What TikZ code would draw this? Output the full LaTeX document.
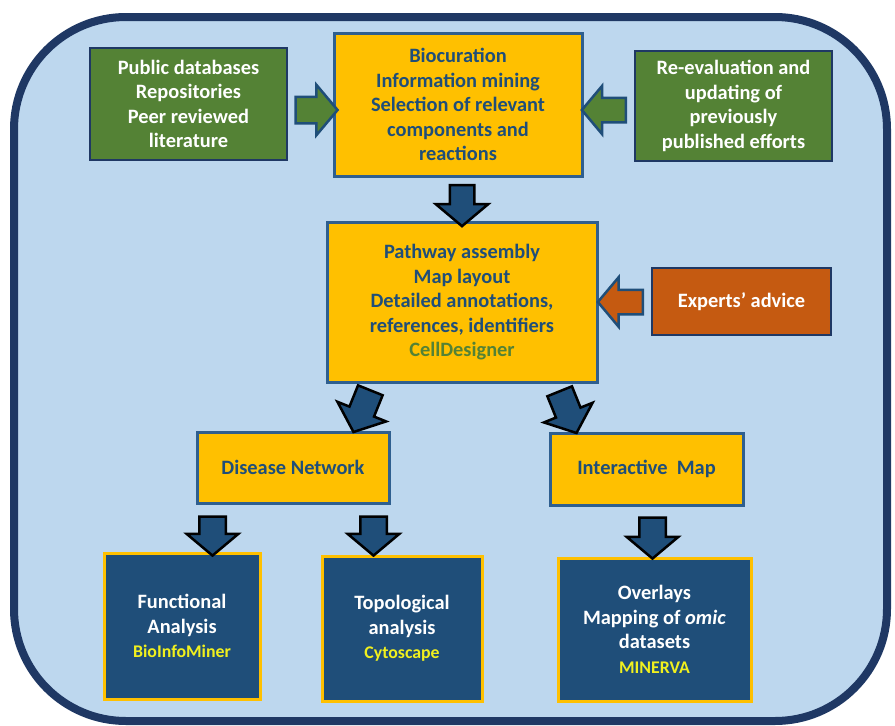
\documentclass[tikz,border=0pt]{standalone}
\usepackage{fontspec}
\setmainfont{Carlito}
\usetikzlibrary{shapes.arrows,calc}
\definecolor{framec}{HTML}{1F3864}
\definecolor{bgc}{HTML}{BDD7EE}
\definecolor{greenc}{HTML}{548235}
\definecolor{yellowc}{HTML}{FFC000}
\definecolor{orangec}{HTML}{C55A11}
\definecolor{navyc}{HTML}{1F4E79}
\definecolor{ybord}{HTML}{2F5F8F}
\definecolor{toolc}{HTML}{F0F01E}
\tikzset{
  basefont/.style={font=\fontsize{20.4}{24.5}\selectfont\bfseries},
  gbox/.style={basefont, draw=framec, line width=2.5pt, fill=greenc, text=white, align=center, inner sep=0pt},
  ybox/.style={basefont, draw=ybord, line width=3pt, fill=yellowc, text=navyc, align=center, inner sep=0pt},
  obox/.style={basefont, draw=framec, line width=2.5pt, fill=orangec, text=white, align=center, inner sep=0pt},
  nbox/.style={basefont, draw=yellowc, line width=3pt, fill=navyc, text=white, align=center, inner sep=0pt},
  barrow/.style={single arrow, inner xsep=0pt, line width=2.5pt, single arrow tip angle=100},
  garrow/.style={barrow, draw=navyc, fill=greenc},
  oarrow/.style={barrow, draw=navyc, fill=orangec},
  narrow/.style={barrow, draw=black, fill=navyc},
}
\begin{document}
\begin{tikzpicture}[x=1pt,y=-1pt]
\useasboundingbox (0,0) rectangle (895,726);
% outer frame
\draw[framec, line width=8pt, fill=bgc, rounded corners=112pt] (14,17) rectangle (887,721);

% top row
\node[gbox, minimum width=197pt, minimum height=112pt] (pub) at (188.5,104) {Public databases\\Repositories\\Peer reviewed\\literature};
\node[ybox, minimum width=248pt, minimum height=143pt] (bio) at (458,104.5) {Biocuration\\Information mining\\Selection of relevant\\components and\\reactions};
\node[gbox, minimum width=197pt, minimum height=110pt] (reeval) at (733.5,106) {Re-evaluation and\\updating of\\previously\\published efforts};

% middle
\node[ybox, minimum width=270pt, minimum height=160pt] (path) at (462,302.5) {Pathway assembly\\Map layout\\Detailed annotations,\\references, identifiers\\{\color{greenc}CellDesigner}};
\node[obox, minimum width=179pt, minimum height=67pt] (exp) at (741.5,301.5) {Experts’ advice};

% second level
\node[ybox, minimum width=192pt, minimum height=71pt] (dis) at (293,467.5) {Disease Network};
\node[ybox, minimum width=193pt, minimum height=72pt] (inter) at (646.5,469) {Interactive~~Map};

% bottom
\node[nbox, minimum width=156pt, minimum height=146pt] (func) at (182,626) {Functional\\Analysis\\{\fontsize{17.8}{22}\selectfont\color{toolc}BioInfoMiner}};
\node[nbox, minimum width=160pt, minimum height=145pt] (topo) at (402,628.5) {Topological\\analysis\\{\fontsize{17.8}{22}\selectfont\color{toolc}Cytoscape}};
\node[nbox, minimum width=193pt, minimum height=143pt] (over) at (654.5,629.5) {Overlays\\Mapping of \textit{omic}\\datasets\\{\fontsize{17.8}{22}\selectfont\color{toolc}MINERVA}};

% block arrows
\node[garrow, inner ysep=12pt, minimum height=42pt, single arrow head extend=12pt] (a1) at (311,110) {};
\node[garrow, rotate=180, inner ysep=11pt, minimum height=44pt, single arrow head extend=12pt] (a2) at (609,110) {};
\node[oarrow, rotate=180, inner ysep=11pt, minimum height=45pt, single arrow head extend=12.5pt] (a3) at (625.5,302) {};
\node[narrow, rotate=-90, inner ysep=11pt, minimum height=41pt, single arrow head extend=14pt] (a4) at (462,200.5) {};
\node[narrow, rotate=-112, inner ysep=12pt, minimum height=45pt, single arrow head extend=13pt] (a5) at (364,406) {};
\node[narrow, rotate=-68, inner ysep=12pt, minimum height=45pt, single arrow head extend=13pt] (a6) at (566,407) {};
\node[narrow, rotate=-90, inner ysep=12pt, minimum height=39pt, single arrow head extend=12.5pt] (a7) at (212.5,530.5) {};
\node[narrow, rotate=-90, inner ysep=12pt, minimum height=39pt, single arrow head extend=12.5pt] (a8) at (373.5,530.5) {};
\node[narrow, rotate=-90, inner ysep=12pt, minimum height=41pt, single arrow head extend=12.5pt] (a9) at (652.5,532.5) {};
\end{tikzpicture}
\end{document}
